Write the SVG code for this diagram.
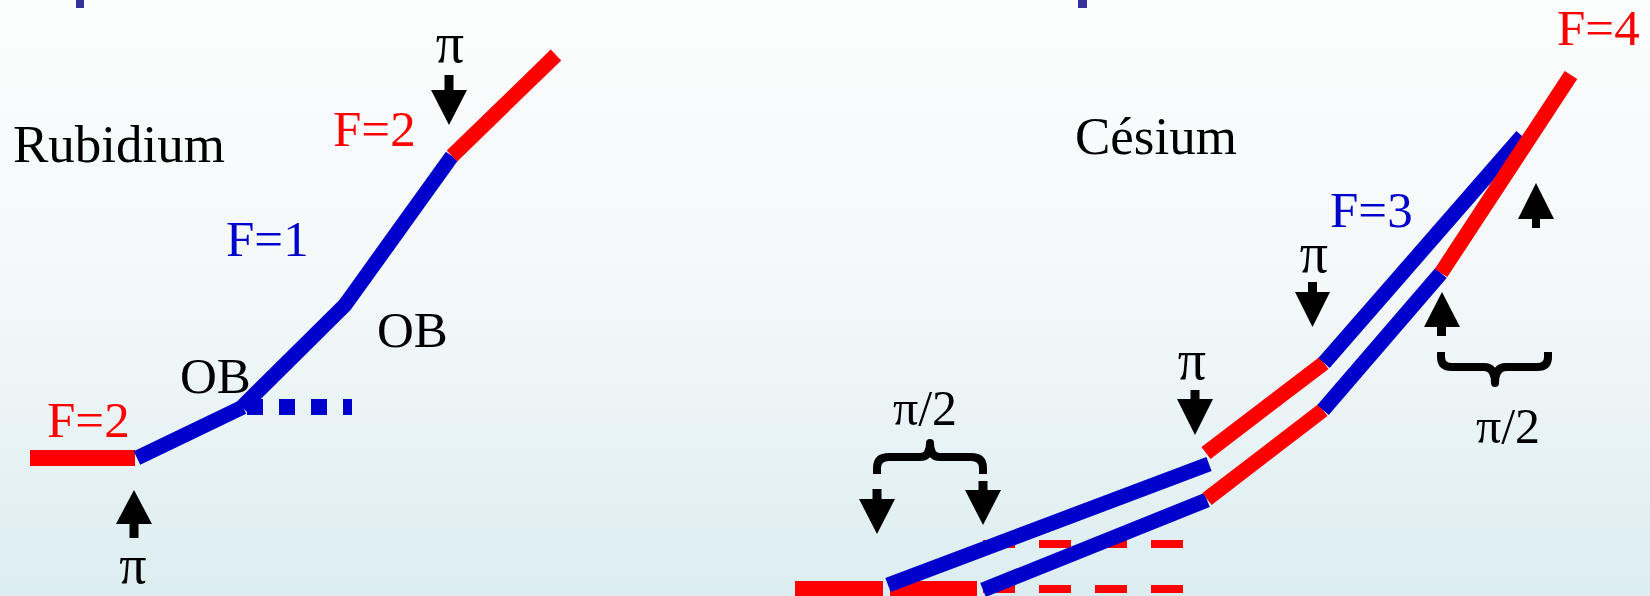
<svg xmlns="http://www.w3.org/2000/svg" width="1650" height="596" viewBox="0 0 1650 596">
  <defs>
    <linearGradient id="bg" x1="0" y1="0" x2="0" y2="1">
      <stop offset="0" stop-color="#fcfdfd"/>
      <stop offset="0.5" stop-color="#f3f8f9"/>
      <stop offset="1" stop-color="#dcedf0"/>
    </linearGradient>
  </defs>
  <style>
    text { font-family: "Liberation Serif", "Times New Roman", serif; }
    .lbl { font-size: 53px; fill: #000; }
    .fr { font-size: 51px; fill: #ff0000; }
    .fb { font-size: 51px; fill: #0000cc; }
    .pi { font-size: 50px; fill: #000; text-anchor: middle; }
    .pi1 { font-size: 56px; }
    .red { stroke: #ff0000; stroke-width: 15; fill: none; stroke-linecap: butt; }
    .blue { stroke: #0000cc; stroke-width: 15; fill: none; stroke-linecap: butt; }
    .arrow { fill: #000; }
    .brace { fill: none; stroke: #000; stroke-width: 8; stroke-linejoin: round; }
    .mark { fill: #333399; }
  </style>
  <rect x="0" y="0" width="1650" height="596" fill="url(#bg)"/>
  <rect class="mark" x="76" y="0" width="8" height="8"/>
  <rect class="mark" x="1078" y="0" width="9" height="8"/>

  <!-- Rubidium -->
  <g id="rubidium-title"><text class="lbl" x="13" y="162">Rubidium</text></g>
  <g id="rb-levels">
    <line class="red" x1="30" y1="458" x2="135" y2="458" style="stroke-width:16"/>
    <line class="blue" x1="137" y1="458" x2="243" y2="407"/>
    <line class="blue" x1="242" y1="407" x2="346" y2="304"/>
    <line class="blue" x1="345" y1="305" x2="452" y2="156"/>
    <line class="red" x1="452" y1="156" x2="556" y2="55"/>
    <line class="blue" x1="247" y1="407" x2="352" y2="407" style="stroke-width:16" stroke-dasharray="16 16"/>
  </g>
  <g id="rb-labels">
    <text class="fr" x="333" y="146">F=2</text>
    <text class="fb" x="226" y="256">F=1</text>
    <text class="lbl" x="377" y="347" style="font-size:51px">OB</text>
    <text class="lbl" x="180" y="393" style="font-size:51px">OB</text>
    <text class="fr" x="47" y="437">F=2</text>
  </g>
  <g id="rb-pulse-top">
    <text class="pi pi1" x="450" y="62">π</text>
    <polygon class="arrow" points="444.5,75 453.5,75 453.5,90 467,90 449,125 431,90 444.5,90"/>
  </g>
  <g id="rb-pulse-bottom">
    <polygon class="arrow" points="134,490 152,524 138.5,524 138.5,538 129.5,538 129.5,524 116,524"/>
    <text class="pi" x="133" y="583" style="font-size:54px">π</text>
  </g>

  <!-- Cesium -->
  <g id="cesium-title"><text class="lbl" x="1075" y="154">Césium</text></g>
  <g id="cs-levels">
    <line stroke="#ff0000" stroke-width="8" x1="983" y1="544" x2="1183" y2="544" stroke-dasharray="32 24"/>
    <line stroke="#ff0000" stroke-width="8" x1="983" y1="589" x2="1183" y2="589" stroke-dasharray="32 24"/>
    <rect x="795" y="581" width="88" height="20" fill="#ff0000"/>
    <rect x="890" y="581" width="87" height="20" fill="#ff0000"/>
    <line class="blue" x1="888" y1="585" x2="1209" y2="464"/>
    <line class="red" x1="1206" y1="453" x2="1324" y2="363"/>
    <line class="blue" x1="1324" y1="363" x2="1522" y2="136"/>
    <line class="blue" x1="983" y1="590" x2="1207" y2="500"/>
    <line class="red" x1="1207" y1="499" x2="1323" y2="410"/>
    <line class="blue" x1="1323" y1="410" x2="1441" y2="273"/>
    <line class="red" x1="1441" y1="273" x2="1571" y2="75"/>
  </g>
  <g id="cs-labels">
    <text class="fr" x="1557" y="45">F=4</text>
    <text class="fb" x="1330" y="227">F=3</text>
  </g>
  <g id="cs-halfpi-left">
    <text class="pi" x="925" y="425">π/2</text>
    <path class="brace" d="M877,474 L877,468 Q877,457 889,457 L920,457 Q930,457 930,443 Q930,457 940,457 L971,457 Q983,457 983,468 L983,474"/>
    <polygon class="arrow" points="872.5,489 881.5,489 881.5,499 895,499 877,534 859,499 872.5,499"/>
    <polygon class="arrow" points="978.5,481 987.5,481 987.5,490 1001,490 983,525 965,490 978.5,490"/>
  </g>
  <g id="cs-pi-mid">
    <text class="pi pi1" x="1192" y="379">π</text>
    <polygon class="arrow" points="1190.5,390 1199.5,390 1199.5,399 1213,399 1195,435 1177,399 1190.5,399"/>
  </g>
  <g id="cs-pi-upper">
    <text class="pi pi1" x="1314" y="272">π</text>
    <polygon class="arrow" points="1308,282 1317,282 1317,292 1330,292 1312.5,327 1295,292 1308,292"/>
  </g>
  <g id="cs-halfpi-right">
    <polygon class="arrow" points="1442,292 1460,327 1446,327 1446,336 1437,336 1437,327 1424,327"/>
    <polygon class="arrow" points="1536,183 1554,219 1540,219 1540,228 1532,228 1532,219 1518,219"/>
    <path class="brace" d="M1441,352 L1441,357 Q1441,367 1452,367 L1484,367 Q1495,367 1495,383 Q1495,367 1506,367 L1537,367 Q1548,367 1548,357 L1548,352"/>
    <text class="pi" x="1508" y="443">π/2</text>
  </g>
</svg>
